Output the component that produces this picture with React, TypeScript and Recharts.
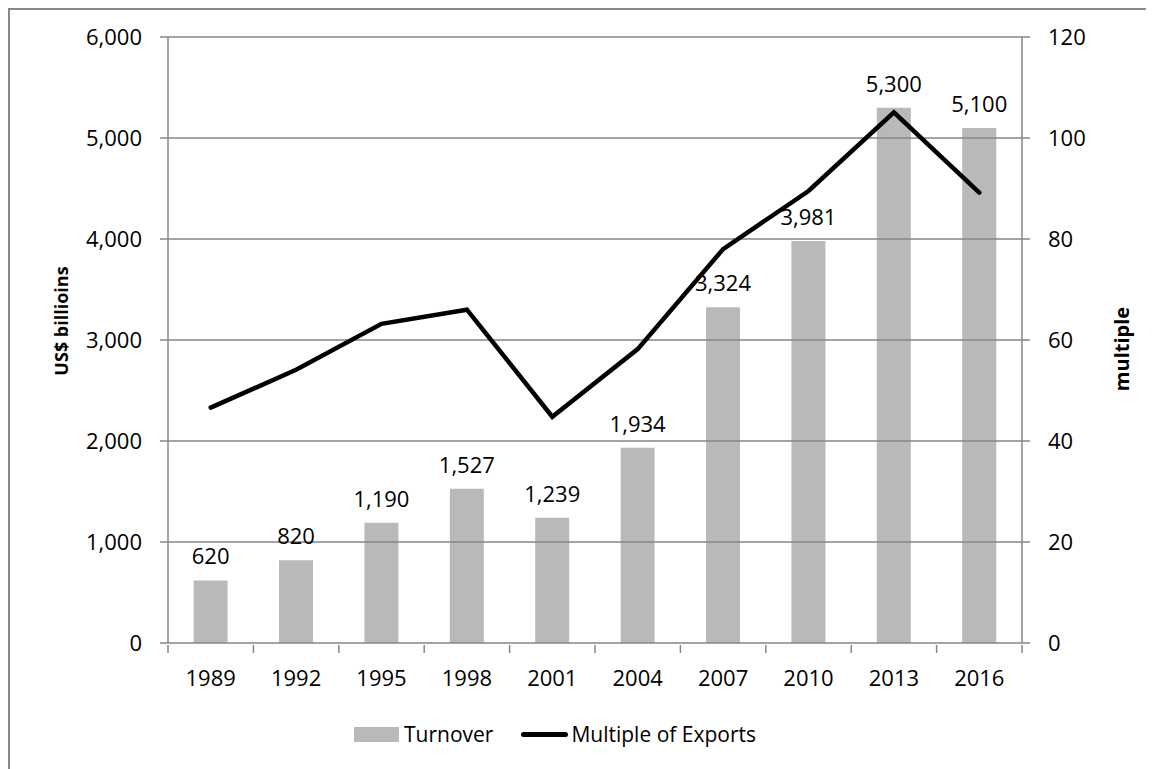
import {
  ComposedChart,
  Bar,
  Line,
  XAxis,
  YAxis,
  Legend,
  LabelList,
  ReferenceLine,
} from "recharts";

const years = ["1989", "1992", "1995", "1998", "2001", "2004", "2007", "2010", "2013", "2016"];
const turnover = [620, 820, 1190, 1527, 1239, 1934, 3324, 3981, 5300, 5100];
const multipleOfExports = [46.6, 54.1, 63.2, 66.0, 44.8, 58.2, 78.0, 89.5, 105.1, 89.2];
const leftTicks = [0, 1000, 2000, 3000, 4000, 5000, 6000];
const rightTicks = [0, 20, 40, 60, 80, 100, 120];

const data = years.map((year, i) => ({
  year,
  turnover: turnover[i],
  multiple: multipleOfExports[i],
}));

const FONT = "'Open Sans', 'Noto Sans', sans-serif";
const GRID = "#868686";
const BAR = "#b9b9b9";
const TICK_SIZE = 22;

const fmt = (v: number) => v.toLocaleString("en-US");

// Excel-style category axis: tick marks sit between the categories
function YearTick(props: any) {
  const { x, y, payload, index, width, visibleTicksCount } = props;
  const step = width / (visibleTicksCount || years.length);
  const last = index === years.length - 1;
  return (
    <g>
      <line x1={x - step / 2} x2={x - step / 2} y1={y} y2={y + 8} stroke={GRID} strokeWidth={1.5} />
      {last && (
        <line x1={x + step / 2} x2={x + step / 2} y1={y} y2={y + 8} stroke={GRID} strokeWidth={1.5} />
      )}
      <text x={x} y={y + 32} textAnchor="middle" dominantBaseline="central" fontSize={TICK_SIZE} fill="#000" fontFamily={FONT}>
        {payload.value}
      </text>
    </g>
  );
}

function LegendContent() {
  return (
    <div style={{ display: "flex", alignItems: "center", fontFamily: FONT, fontSize: 21, color: "#000" }}>
      <span style={{ display: "inline-block", width: 45, height: 15, background: BAR, marginRight: 5 }} />
      <span>Turnover</span>
      <span
        style={{
          display: "inline-block",
          width: 47,
          height: 5,
          borderRadius: 3,
          background: "#000",
          marginLeft: 28,
          marginRight: 3,
        }}
      />
      <span>Multiple of Exports</span>
    </div>
  );
}

export default function App() {
  return (
    <div style={{ position: "relative", width: 1146, height: 761 }}>
      <ComposedChart
        width={1146}
        height={761}
        data={data}
        margin={{ top: 29, right: 0, bottom: 19, left: 0 }}
        barCategoryGap="30%"
      >
        <XAxis
          dataKey="year"
          height={77}
          axisLine={{ stroke: GRID, strokeWidth: 1.5 }}
          tickLine={false}
          tickSize={0}
          tick={<YearTick />}
          interval={0}
        />
        <YAxis
          yAxisId="left"
          width={160}
          domain={[0, 6000]}
          ticks={leftTicks}
          tickFormatter={fmt}
          axisLine={{ stroke: GRID, strokeWidth: 1.5 }}
          tickLine={{ stroke: GRID, strokeWidth: 1.5 }}
          tickSize={8}
          tickMargin={18}
          tick={{ fontSize: TICK_SIZE, fill: "#000", fontFamily: FONT }}
          label={(p: any) => (
            <text
              x={p.viewBox.x + 53}
              y={p.viewBox.y + p.viewBox.height / 2 - 19}
              transform={`rotate(-90, ${p.viewBox.x + 53}, ${p.viewBox.y + p.viewBox.height / 2 - 19})`}
              textAnchor="middle"
              dominantBaseline="central"
              fontSize={18}
              fontWeight="bold"
              fontFamily={FONT}
              fill="#000"
            >
              US$ billioins
            </text>
          )}
        />
        <YAxis
          yAxisId="right"
          orientation="right"
          width={132}
          domain={[0, 120]}
          ticks={rightTicks}
          axisLine={{ stroke: GRID, strokeWidth: 1.5 }}
          tickLine={{ stroke: GRID, strokeWidth: 1.5 }}
          tickSize={8}
          tickMargin={18}
          tick={{ fontSize: TICK_SIZE, fill: "#000", fontFamily: FONT, textAnchor: "start" }}
          label={(p: any) => (
            <text
              x={p.viewBox.x + 99}
              y={p.viewBox.y + p.viewBox.height / 2 + 9}
              transform={`rotate(-90, ${p.viewBox.x + 99}, ${p.viewBox.y + p.viewBox.height / 2 + 9})`}
              textAnchor="middle"
              dominantBaseline="central"
              fontSize={20}
              fontWeight="bold"
              fontFamily={FONT}
              fill="#000"
            >
              multiple
            </text>
          )}
        />
        <Bar yAxisId="left" dataKey="turnover" name="Turnover" fill={BAR} isAnimationActive={false}>
          <LabelList
            dataKey="turnover"
            position="top"
            offset={16}
            formatter={(v: any) => fmt(Number(v))}
            style={{ fontSize: TICK_SIZE, fill: "#000", fontFamily: FONT }}
          />
        </Bar>
        {leftTicks.slice(1).map((t) => (
          <ReferenceLine key={t} yAxisId="left" y={t} stroke={GRID} strokeWidth={1.5} />
        ))}
        <Line
          yAxisId="right"
          dataKey="multiple"
          name="Multiple of Exports"
          stroke="#000"
          strokeWidth={4.5}
          strokeLinecap="round"
          strokeLinejoin="miter"
          dot={false}
          activeDot={false}
          isAnimationActive={false}
        />
        <Legend
          verticalAlign="bottom"
          height={30}
          content={<LegendContent />}
          wrapperStyle={{ left: 346, width: 460 }}
        />
      </ComposedChart>
      <div
        style={{
          position: "absolute",
          inset: 0,
          borderLeft: "2px solid #888",
          borderTop: "2px solid #888",
          pointerEvents: "none",
        }}
      />
    </div>
  );
}
